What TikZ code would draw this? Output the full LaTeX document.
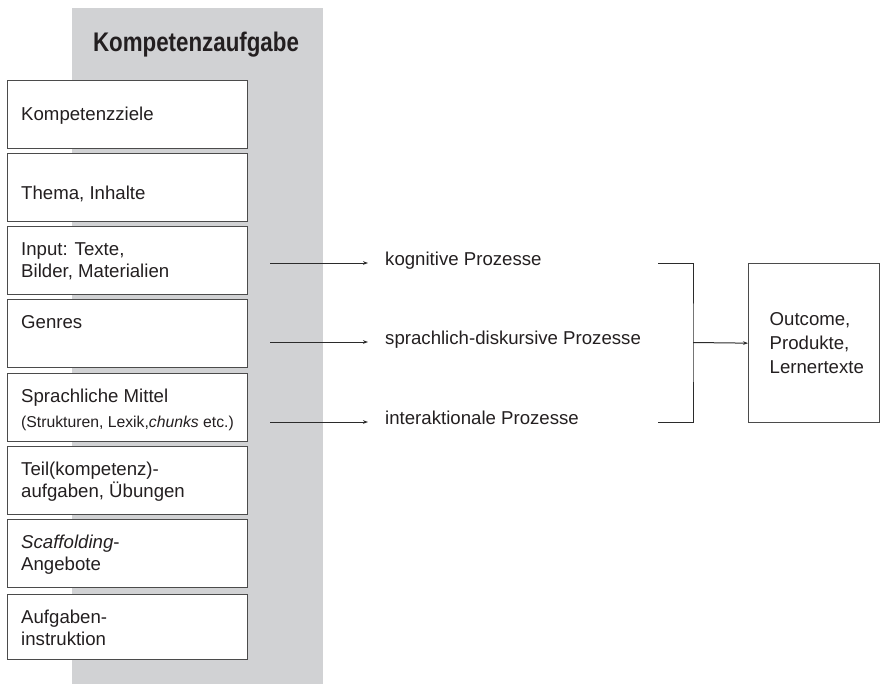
\documentclass[tikz,border=0pt]{standalone}
\usepackage{fontspec}
\setmainfont{Liberation Sans}
\usetikzlibrary{arrows.meta,positioning}
\definecolor{bandgrau}{HTML}{D1D2D4}
\definecolor{strich}{HTML}{2B2B2B}
\definecolor{schrift}{HTML}{231F20}

\begin{document}
\begin{tikzpicture}[x=1bp,y=-1bp,
every node/.style={text=schrift,font=\fontsize{18.7}{22}\selectfont},
feld/.style={draw=strich!85,line width=1.3bp,fill=white,minimum width=240bp,minimum height=68bp,anchor=north west,inner sep=0pt},
eintrag/.style={anchor=base west,align=left,inner sep=0pt},
pfeil/.style={draw=strich,line width=1bp,-{Stealth[length=5bp,width=3.6bp]}},
prozess/.style={anchor=mid west,inner xsep=17bp,inner ysep=0pt}]
\useasboundingbox (0,0) rectangle (880,684);
\fill[bandgrau] (72,8) rectangle (323,684);
\node[anchor=base,font=\fontsize{27}{30}\selectfont\bfseries] (titel) at (196,52) {\scalebox{0.83}[1]{Kompetenzaufgabe}};
% linke Spalte
\node[feld] (f1) at (7,80) {};
\node[feld] (f2) at (7,153) {};
\node[feld] (f3) at (7,226) {};
\node[feld] (f4) at (7,299) {};
\node[feld] (f5) at (7,373) {};
\node[feld] (f6) at (7,446) {};
\node[feld] (f7) at (7,519) {};
\node[feld,minimum height=65bp] (f8) at (7,594) {};
% Grundlinie der letzten Zeile
\node[eintrag] (t1) at ([shift={(14,41)}]f1.north west) {Kompetenzziele};
\node[eintrag] (t2) at ([shift={(14,46)}]f2.north west) {Thema, Inhalte};
\node[eintrag] (t3) at ([shift={(14,51)}]f3.north west) {Input: Texte,\\Bilder, Materialien};
\node[eintrag] (t4) at ([shift={(14,29)}]f4.north west) {Genres};
\node[eintrag] (t5) at ([shift={(14,54)}]f5.north west) {Sprachliche Mittel\\[3bp]{\fontsize{15.8}{22}\selectfont(Strukturen, Lexik,\textit{chunks} etc.)}};
\node[eintrag] (t6) at ([shift={(14,51)}]f6.north west) {Teil(kompetenz)-\\aufgaben, Übungen};
\node[eintrag] (t7) at ([shift={(14,51)}]f7.north west) {\textit{Scaffolding}-\\Angebote};
\node[eintrag] (t8) at ([shift={(14,51)}]f8.north west) {Aufgaben-\\instruktion};
% Prozesse
\node[prozess] (p1) at (368,263) {kognitive Prozesse};
\node[prozess] (p2) at (368,342) {sprachlich-diskursive Prozesse};
\node[prozess] (p3) at (368,422) {interaktionale Prozesse};
\coordinate (s1) at (270,263);
\coordinate (s2) at (270,342);
\coordinate (s3) at (270,422);
\draw[pfeil] (s1) -- (p1.mid west);
\draw[pfeil] (s2) -- (p2.mid west);
\draw[pfeil] (s3) -- (p3.mid west);
% Klammer und Ergebnis
\node[draw=strich!85,line width=1.3bp,minimum width=131bp,minimum height=159bp,text width=89bp,inner xsep=21bp,
  align=left,anchor=north west,font=\fontsize{18.7}{24.5}\selectfont] (out) at (748,263) {Outcome,\\Produkte,\\Lernertexte};
\coordinate (k1) at (658,263);
\coordinate (k3) at (658,422);
\coordinate (km) at (693,342.5);
\draw[strich,line width=1bp] (k1) -| (km) |- (k3);
\draw[pfeil] (km) -- (out.west);
\end{tikzpicture}
\end{document}
